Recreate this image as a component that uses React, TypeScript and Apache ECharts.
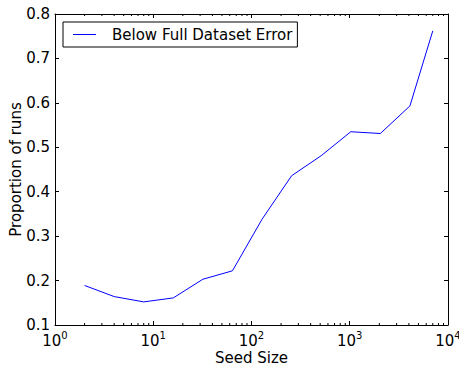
import React, { useEffect, useRef } from 'react';
import * as echarts from 'echarts';

const seedSizes = [2, 4, 8, 16, 32, 64, 128, 256, 512, 1024, 2048, 4096, 7000];
const proportions = [0.189, 0.164, 0.152, 0.161, 0.203, 0.222, 0.338, 0.436, 0.481, 0.535, 0.531, 0.593, 0.762];
const seriesName = 'Below Full Dataset Error';
const xAxisTitle = 'Seed Size';
const yAxisTitle = 'Proportion of runs';
const xMin = 1;
const xMax = 10000;
const yMin = 0.1;
const yMax = 0.8;
const yInterval = 0.1;

const FONT = 'DejaVu Sans';

export default function App() {
  const ref = useRef<HTMLDivElement>(null);
  useEffect(() => {
    if (!ref.current) return;
    const chart = echarts.init(ref.current, undefined, { renderer: 'svg' });
    const minorTicks: number[][] = [];
    for (let k = 0; k < 4; k++) {
      for (let m = 2; m <= 9; m++) minorTicks.push([m * Math.pow(10, k), yMin]);
    }
    const tickStyle = { stroke: '#000', lineWidth: 1 };
    chart.setOption({
      animation: false,
      backgroundColor: '#fff',
      grid: { left: 55, right: 11, top: 14, bottom: 41, containLabel: false, outerBoundsMode: 'none' },
      legend: {
        data: [{ name: seriesName, icon: 'rect' }],
        left: 63,
        top: 22,
        padding: [4, 5, 4, 10],
        itemWidth: 23,
        itemHeight: 1,
        borderColor: '#000',
        borderWidth: 1,
        borderRadius: 0,
        backgroundColor: '#fff',
        textStyle: { fontSize: 15, fontFamily: FONT, color: '#000', padding: [0, 0, 0, 11], lineHeight: 17 },
      },
      xAxis: [
        {
          type: 'log',
          logBase: 10,
          min: xMin,
          max: xMax,
          splitNumber: 4,
          name: xAxisTitle,
          nameLocation: 'middle',
          nameGap: 25,
          nameMoveOverlap: false,
          nameTextStyle: { fontSize: 15, fontFamily: FONT, color: '#000' },
          axisLine: { show: true, lineStyle: { color: '#000', width: 1 } },
          axisTick: { show: true, inside: true, length: 4, lineStyle: { color: '#000' } },
          splitLine: { show: false },
          axisLabel: {
            margin: 5,
            formatter: (v: number) => `{b|10}{s|${Math.round(Math.log10(v))}}`,
            rich: {
              b: { fontSize: 15, fontFamily: FONT, color: '#000', lineHeight: 18, verticalAlign: 'bottom' },
              s: { fontSize: 10, fontFamily: FONT, color: '#000', lineHeight: 18, verticalAlign: 'top' },
            },
          },
        },
        {
          type: 'log',
          logBase: 10,
          min: xMin,
          max: xMax,
          splitNumber: 4,
          position: 'top',
          axisLine: { show: true, lineStyle: { color: '#000', width: 1 } },
          axisTick: { show: true, inside: true, length: 4, lineStyle: { color: '#000' } },
          axisLabel: { show: false },
          splitLine: { show: false },
        },
      ],
      yAxis: [
        {
          type: 'value',
          min: yMin,
          max: yMax,
          interval: yInterval,
          name: yAxisTitle,
          nameLocation: 'middle',
          nameGap: 32,
          nameMoveOverlap: false,
          nameTextStyle: { fontSize: 15, fontFamily: FONT, color: '#000' },
          axisLine: { show: true, lineStyle: { color: '#000', width: 1 } },
          axisTick: { show: true, inside: true, length: 4, lineStyle: { color: '#000' } },
          splitLine: { show: false },
          axisLabel: {
            margin: 5,
            fontSize: 15,
            fontFamily: FONT,
            color: '#000',
            formatter: (v: number) => v.toFixed(1),
          },
        },
        {
          type: 'value',
          min: yMin,
          max: yMax,
          interval: yInterval,
          position: 'right',
          axisLine: { show: true, lineStyle: { color: '#000', width: 1 } },
          axisTick: { show: true, inside: true, length: 4, lineStyle: { color: '#000' } },
          axisLabel: { show: false },
          splitLine: { show: false },
        },
      ],
      series: [
        {
          name: seriesName,
          type: 'line',
          xAxisIndex: 0,
          yAxisIndex: 0,
          symbol: 'none',
          color: '#0000ff',
          lineStyle: { color: '#0000ff', width: 1 },
          data: seedSizes.map((s, i) => [s, proportions[i]]),
        },
        {
          name: 'minorTicks',
          type: 'custom',
          xAxisIndex: 0,
          yAxisIndex: 0,
          silent: true,
          clip: false,
          data: minorTicks,
          renderItem: (_p: any, api: any) => {
            const b = api.coord([api.value(0), yMin]);
            const t = api.coord([api.value(0), yMax]);
            return {
              type: 'group',
              children: [
                { type: 'line', shape: { x1: b[0], y1: b[1], x2: b[0], y2: b[1] - 2 }, style: tickStyle },
                { type: 'line', shape: { x1: t[0], y1: t[1], x2: t[0], y2: t[1] + 2 }, style: tickStyle },
              ],
            };
          },
        },
      ],
    });
    return () => chart.dispose();
  }, []);
  return <div ref={ref} style={{ position: 'fixed', left: 0, top: 0, width: 459, height: 366 }} />;
}
